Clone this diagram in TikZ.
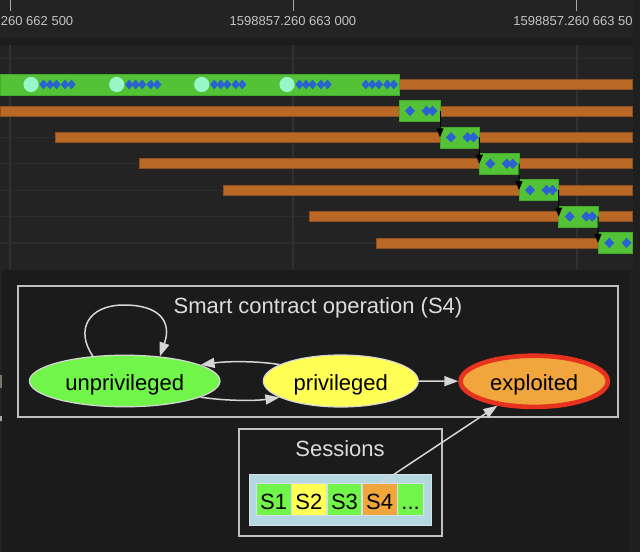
\documentclass[tikz,border=0pt]{standalone}
\usepackage{fontspec}
\setmainfont{Liberation Sans}
\usetikzlibrary{arrows.meta,shapes.geometric}
\definecolor{outbg}{HTML}{1F1F1F}
\definecolor{hdrbg}{HTML}{232323}
\definecolor{bandbg}{HTML}{1D1D1D}
\definecolor{tlbg}{HTML}{232323}
\definecolor{botbg}{HTML}{1B1B1B}
\definecolor{gridc}{HTML}{313131}
\definecolor{gridh}{HTML}{2D2D2D}
\definecolor{tickc}{HTML}{A8A8A8}
\definecolor{lblc}{HTML}{C4C4C4}
\definecolor{tlgreen}{HTML}{53C236}
\definecolor{tlgreenb}{HTML}{46A82D}
\definecolor{tlorange}{HTML}{BA6826}
\definecolor{tlorangeb}{HTML}{8E5022}
\definecolor{dblue}{HTML}{2A62D2}
\definecolor{mint}{HTML}{98F6C8}
\definecolor{ngreen}{HTML}{72F54A}
\definecolor{nyellow}{HTML}{FFFF55}
\definecolor{norange}{HTML}{F0A63C}
\definecolor{nred}{HTML}{E6321E}
\definecolor{recblue}{HTML}{B4D7E1}
\definecolor{recin}{HTML}{D4E2E6}
\definecolor{edgec}{HTML}{D6D6D6}
\definecolor{clusc}{HTML}{C0C0C0}
\definecolor{titlec}{HTML}{DCDCDC}
\definecolor{markc}{HTML}{7A7A6C}
\newcommand\tldia[2]{\fill[dblue,shift={(#1,#2)}] (-4.2,0) -- (0,4.9) -- (4.2,0) -- (0,-4.9) -- cycle;}
\newcommand\tlbdia[2]{\fill[dblue,shift={(#1,#2)}] (-5,0) -- (0,5.2) -- (5,0) -- (0,-5.2) -- cycle;}
\tikzset{
  gbox/.style={rectangle, fill=tlgreen, draw=tlgreenb, line width=0.6pt, inner sep=0pt, outer sep=0pt, minimum height=21pt},
  obar/.style={fill=tlorange, draw=tlorangeb, line width=0.5pt},
  tlarrow/.style={draw=black, line width=1pt, -{Triangle[length=9pt,width=7pt]}},
  tlabel/.style={text=lblc, font=\fontsize{13}{15}\selectfont, inner sep=0pt},
  clus/.style={draw=clusc, line width=1.8pt},
  ctitle/.style={text=titlec, font=\fontsize{22}{26}\selectfont, inner sep=0pt},
  st/.style={ellipse, draw=edgec, line width=1.2pt, inner sep=0pt, text=black,
    font=\fontsize{22}{26}\selectfont, text height=19pt, text depth=0pt},
  cell/.style={rectangle, inner sep=0pt, minimum height=31pt, text=black,
    font=\fontsize{22}{26}\selectfont, text height=19.6pt, text depth=0pt},
  edge/.style={draw=edgec, line width=1.5pt, -{Triangle[length=14pt,width=10pt]}, fill=none}
}
\begin{document}
\begin{tikzpicture}[x=1pt,y=1pt]
\useasboundingbox (0,0) rectangle (640,-552);
% backgrounds
\fill[outbg] (0,0) rectangle (640,-552);
\fill[hdrbg] (0,0) rectangle (632.7,-38);
\fill[bandbg] (0,-38) rectangle (632.7,-45);
\fill[tlbg] (0,-45) rectangle (632.7,-270);
\fill[tlbg] (0,-270) rectangle (2,-552);
\fill[botbg] (2,-270) rectangle (629,-552);
\fill[markc] (0,-375) rectangle (2,-388);
\fill[tickc] (0,-416) rectangle (1.5,-421);
% grid
\foreach \x in {10,293,576.7} \draw[gridc, line width=1.6pt] (\x,-45) -- (\x,-270);
\foreach \y in {58.1,84.5,110.9,137.3,163.7,190.1,216.5,242.9} \draw[gridh, line width=1.2pt] (0,-\y) -- (632.7,-\y);
% ticks and labels
\foreach \x in {10,293,576.7} \draw[tickc, line width=1pt] (\x,0) -- (\x,-11);
\begin{scope}
\clip (0,0) rectangle (632.7,-38);
\node[tlabel, anchor=base] (lab1) at (10,-25) {1598857.260 662 500};
\node[tlabel, anchor=base] (lab2) at (293,-25) {1598857.260 663 000};
\node[tlabel, anchor=base] (lab3) at (576.7,-25) {1598857.260 663 500};
\end{scope}
% orange bars
\filldraw[obar] (399,-79.5) rectangle (632.7,-89.5);
\filldraw[obar] (0,-105.9) rectangle (632.7,-115.9);
\filldraw[obar] (55,-132.3) rectangle (632.7,-142.3);
\filldraw[obar] (139.3,-158.7) rectangle (632.7,-168.7);
\filldraw[obar] (223.7,-185.1) rectangle (632.7,-195.1);
\filldraw[obar] (309.7,-211.5) rectangle (632.7,-221.5);
\filldraw[obar] (376.7,-237.9) rectangle (598,-247.9);
% top green bar
\node[gbox, minimum width=399pt, anchor=west] (b0) at (0,-84.5) {};
\foreach \c in {31,116.7,201.7,287} \fill[mint] (\c,-84.5) circle (7.6);
\foreach \c in {31,116.7,201.7,287,353.3} {
  \foreach \d in {12.5,19,25.5,34,40.5} { \tldia{\c+\d}{-84.5} }
}
% boxes
\foreach \i/\L/\W/\yc in {1/399/41/110.9, 2/440/39.3/137.3, 3/479.3/39.7/163.7, 4/519/39.7/190.1, 5/558.7/39.3/216.5} {
  \node[gbox, minimum width=\W pt, anchor=west] (b\i) at (\L,-\yc) {};
  \tlbdia{\L+11}{-\yc}
  \tlbdia{\L+27.5}{-\yc}
  \tlbdia{\L+33.5}{-\yc}
}
\node[gbox, minimum width=34.7pt, anchor=west] (b6) at (598,-242.9) {};
\tlbdia{609.3}{-242.9}
\tlbdia{626.5}{-242.9}
\foreach \i/\j in {1/2,2/3,3/4,4/5,5/6} \draw[tlarrow] (b\i.east) -- (b\j.west);
% cluster 1
\draw[clus] (18.3,-286) rectangle (617.7,-416.7);
\node[ctitle, anchor=base] (t1) at (318,-313.3) {Smart contract operation (S4)};
\node[st, fill=ngreen, minimum width=190.6pt, minimum height=51.6pt] (unp) at (124.7,-381) {unprivileged};
\node[st, fill=nyellow, minimum width=155pt, minimum height=52pt] (pri) at (340.8,-381) {privileged};
\node[st, fill=norange, draw=nred, line width=4.6pt, minimum width=147.2pt, minimum height=51.2pt] (expl) at (534.2,-381.3) {exploited};
% cluster 2
\draw[clus] (239,-429.3) rectangle (441.7,-536);
\node[ctitle, anchor=base] (t2) at (340,-456) {Sessions};
\node[rectangle, fill=recblue, draw=recin, line width=0.6pt, minimum width=181.7pt, minimum height=50.7pt, inner sep=0pt] (rec) at (340.15,-499.65) {};
\fill[recin] (255.6,-482.9) rectangle (424.4,-516.1);
\node[cell, fill=ngreen, minimum width=34pt] (s1) at (273.7,-499.5) {S1};
\node[cell, fill=nyellow, minimum width=34.3pt] (s2) at (308.85,-499.5) {S2};
\node[cell, fill=ngreen, minimum width=33.6pt] (s3) at (344.5,-499.5) {S3};
\node[cell, fill=norange, minimum width=34pt] (s4) at (379.7,-499.5) {S4};
\node[cell, fill=ngreen, minimum width=25.3pt] (s5) at (410.65,-499.5) {...};
% edges
\draw[edge] (unp.142) .. controls (75,-330) and (88,-305) .. (124,-305) .. controls (160,-305) and (172,-322) .. (unp.35);
\draw[edge] (pri.165) .. controls (258,-361) and (228,-361) .. (unp.12);
\draw[edge] (unp.-12) .. controls (225,-401) and (255,-401) .. (pri.195);
\draw[edge] (pri) -- (expl);
\draw[edge] (s4.north) -- (expl);
\end{tikzpicture}
\end{document}
